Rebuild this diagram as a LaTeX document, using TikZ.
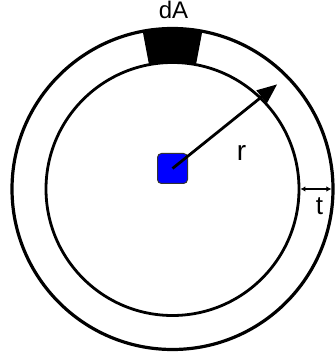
\documentclass[tikz,border=0pt]{standalone}
\usepackage{fontspec}
\setmainfont{Liberation Sans}
\usetikzlibrary{arrows.meta}

\begin{document}
\begin{tikzpicture}[x=1pt, y=1pt,
    ring/.style={draw, black},
    lbl/.style={inner sep=0pt, font=\fontsize{24}{24}\selectfont},
    src/.style={rectangle, draw=black!80, line width=1pt, fill=blue, rounded corners=4pt, minimum size=30pt, inner sep=0pt}]
    \useasboundingbox (0,0) rectangle (334,358);

    \coordinate (C) at (172.5,169);
    \fill[black] ([shift={(79.3:126.5)}]C) arc[start angle=79.3, end angle=100.7, radius=126.5]
        -- ([shift={(100.7:160.5)}]C) arc[start angle=100.7, end angle=79.3, radius=160.5] -- cycle;
    \draw[ring, line width=3.2pt] (C) circle[radius=160.5];
    \draw[ring, line width=2.8pt] (C) circle[radius=126.5];

    \node[src] (S) at (172.5,189.5) {};
    \coordinate (R) at ([shift={(45:148)}]C);
    \coordinate (T1) at ([shift={(0:127.9)}]C);
    \coordinate (T2) at ([shift={(0:158.9)}]C);

    \draw[line width=2.8pt, -{Triangle[length=20pt, width=16pt]}] (S.center) -- (R);
    \draw[line width=1.3pt, {Latex[length=5pt, width=5.5pt]}-{Latex[length=5pt, width=5.5pt]}] (T1) -- (T2);

    \node[lbl] (dA) at (173.5,348.5) {dA};
    \node[lbl, font=\fontsize{28}{28}\selectfont] (r) at (241.5,205) {r};
    \node[lbl, font=\fontsize{26}{26}\selectfont] (t) at (319.5,152) {t};
\end{tikzpicture}
\end{document}
